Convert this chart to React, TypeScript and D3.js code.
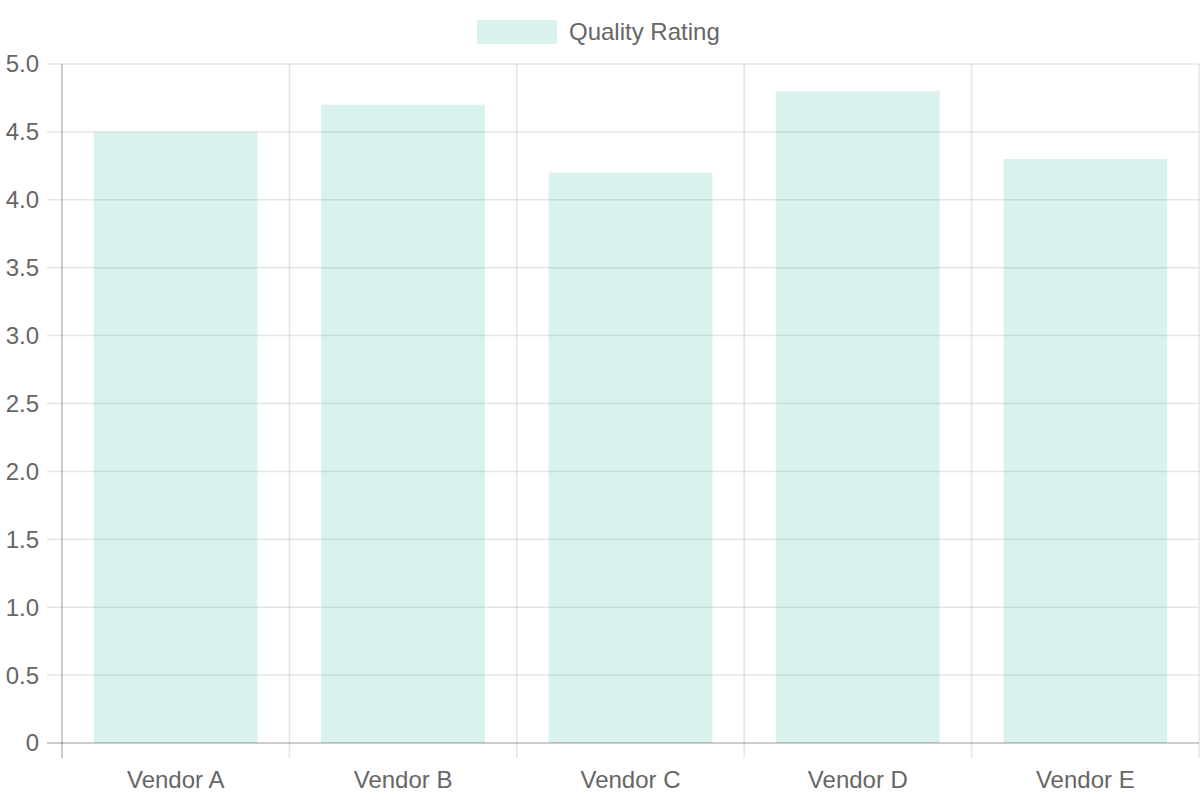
import { useEffect, useRef } from "react";
import * as d3 from "d3";

const WIDTH = 1200;
const HEIGHT = 800;
const MARGIN = { top: 64, right: 1, bottom: 57, left: 62 };

const vendors = ["Vendor A", "Vendor B", "Vendor C", "Vendor D", "Vendor E"];
const qualityRatings = [4.5, 4.7, 4.2, 4.8, 4.3];
const yTicks = [0, 0.5, 1, 1.5, 2, 2.5, 3, 3.5, 4, 4.5, 5];
const seriesLabel = "Quality Rating";

const FONT = "'Liberation Sans', Arial, sans-serif";
const TEXT = "#666";
const GRID = "rgba(0,0,0,0.1)";
const AXIS = "rgba(0,0,0,0.2)";
const BAR_FILL = "rgba(72,188,172,0.2)";

export default function App() {
  const svgRef = useRef<SVGSVGElement | null>(null);

  useEffect(() => {
    if (!svgRef.current) return;
    const svg = d3.select(svgRef.current);
    svg.selectAll("*").remove();

    const innerWidth = WIDTH - MARGIN.left - MARGIN.right;
    const innerHeight = HEIGHT - MARGIN.top - MARGIN.bottom;

    const x = d3.scaleBand().domain(vendors).range([0, innerWidth]).paddingInner(0).paddingOuter(0);
    const y = d3.scaleLinear().domain([0, 5]).range([innerHeight, 0]);

    const g = svg.append("g").attr("transform", `translate(${MARGIN.left},${MARGIN.top})`);

    // horizontal grid + tick marks
    g.append("g")
      .selectAll("line")
      .data(yTicks.filter((t) => t !== 0))
      .enter()
      .append("line")
      .attr("x1", -15)
      .attr("x2", innerWidth)
      .attr("y1", (d: number) => y(d))
      .attr("y2", (d: number) => y(d))
      .attr("stroke", GRID)
      .attr("stroke-width", 1.5);

    // vertical grid (category boundaries) + tick marks
    const bounds = vendors.map((v) => x(v) ?? 0).concat([innerWidth]);
    g.append("g")
      .selectAll("line")
      .data(bounds.slice(1))
      .enter()
      .append("line")
      .attr("x1", (d: number) => d)
      .attr("x2", (d: number) => d)
      .attr("y1", 0)
      .attr("y2", innerHeight + 15)
      .attr("stroke", GRID)
      .attr("stroke-width", 1.5);

    // bars
    const barW = x.bandwidth() * 0.72;
    g.selectAll("rect.bar")
      .data(qualityRatings)
      .enter()
      .append("rect")
      .attr("class", "bar")
      .attr("x", (_: number, i: number) => (x(vendors[i]) ?? 0) + (x.bandwidth() - barW) / 2)
      .attr("width", barW)
      .attr("y", (d: number) => y(d))
      .attr("height", (d: number) => innerHeight - y(d))
      .attr("fill", BAR_FILL);

    // axes lines
    g.append("line")
      .attr("x1", 0).attr("x2", 0)
      .attr("y1", 0).attr("y2", innerHeight + 15)
      .attr("stroke", AXIS).attr("stroke-width", 2);
    g.append("line")
      .attr("x1", -15).attr("x2", innerWidth)
      .attr("y1", innerHeight).attr("y2", innerHeight)
      .attr("stroke", AXIS).attr("stroke-width", 2);

    // y labels
    g.append("g")
      .selectAll("text")
      .data(yTicks)
      .enter()
      .append("text")
      .attr("x", -23)
      .attr("y", (d: number) => y(d))
      .attr("dy", "0.35em")
      .attr("text-anchor", "end")
      .attr("fill", TEXT)
      .style("font-family", FONT)
      .style("font-size", "24px")
      .text((d: number) => (d === 0 ? "0" : d3.format(".1f")(d)));

    // x labels
    g.append("g")
      .selectAll("text")
      .data(vendors)
      .enter()
      .append("text")
      .attr("x", (d: string) => (x(d) ?? 0) + x.bandwidth() / 2)
      .attr("y", innerHeight + 45)
      .attr("text-anchor", "middle")
      .attr("fill", TEXT)
      .style("font-family", FONT)
      .style("font-size", "24px")
      .text((d: string) => d);

    // legend
    const legend = svg.append("g").attr("transform", "translate(477,20)");
    legend.append("rect").attr("width", 80).attr("height", 24).attr("fill", BAR_FILL);
    legend
      .append("text")
      .attr("x", 92)
      .attr("y", 20)
      .attr("fill", TEXT)
      .style("font-family", FONT)
      .style("font-size", "24px")
      .text(seriesLabel);
  }, []);

  return (
    <svg
      ref={svgRef}
      width={WIDTH}
      height={HEIGHT}
      style={{ position: "absolute", left: 0, top: 0, background: "#fff" }}
    />
  );
}
